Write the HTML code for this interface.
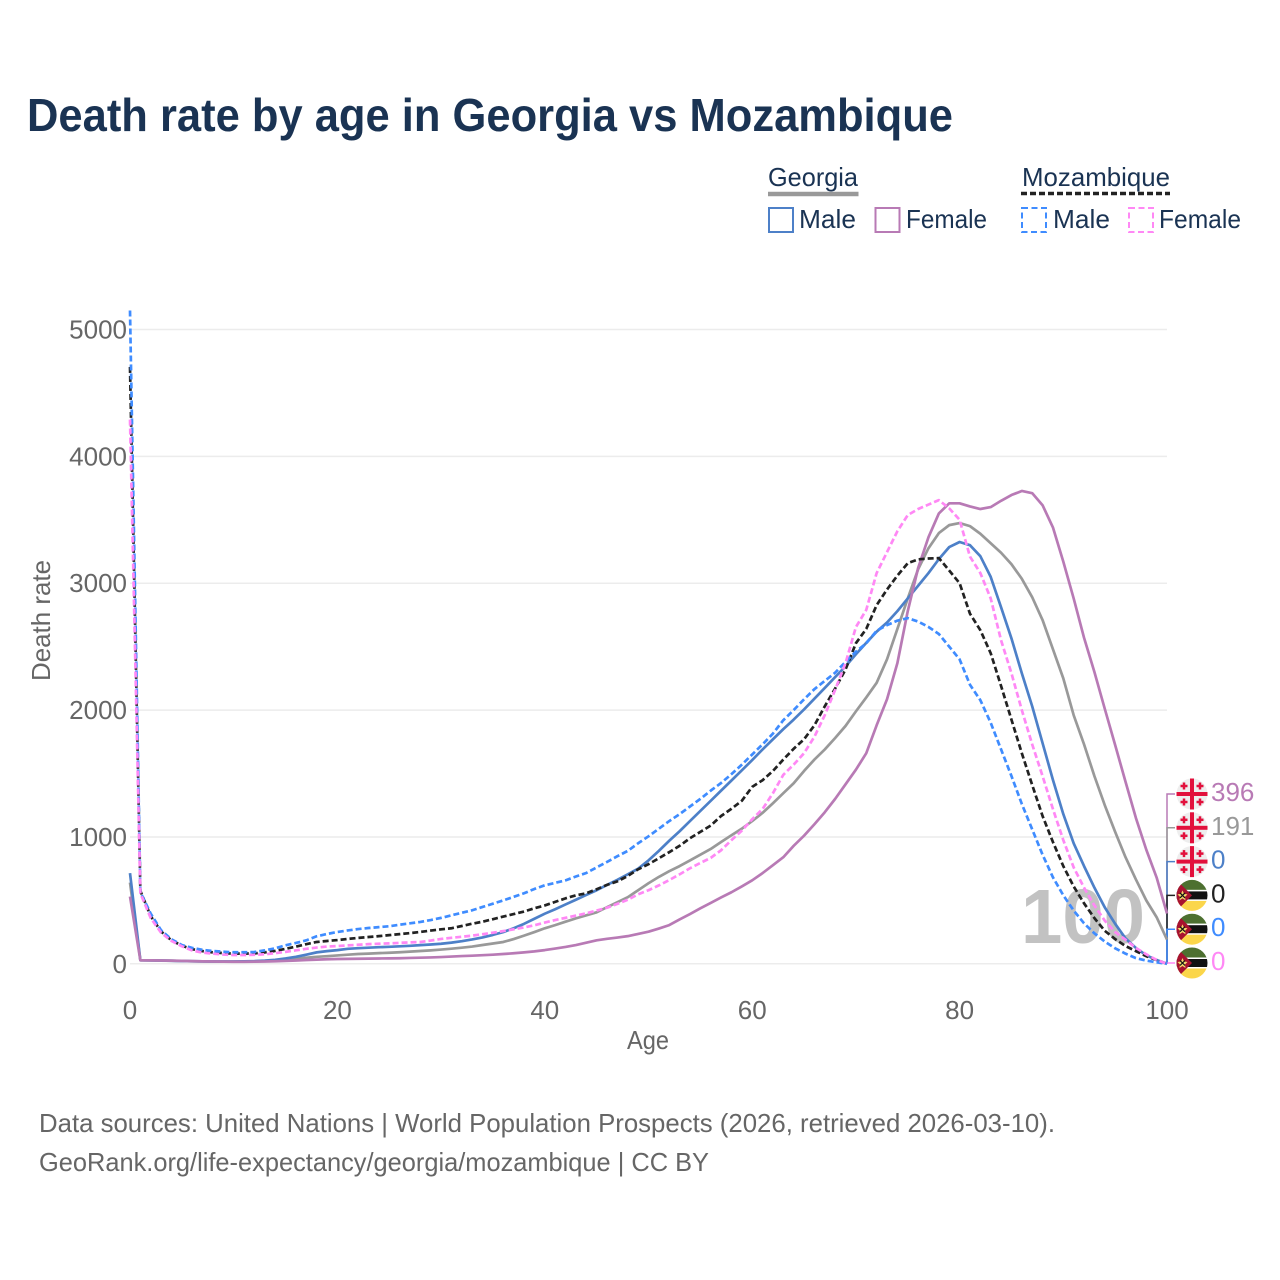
<!DOCTYPE html>
<html lang="en">
<head>
<meta charset="utf-8">
<title>Death rate by age in Georgia vs Mozambique</title>
<style>
html,body{margin:0;padding:0;background:#fff;width:1280px;height:1280px;overflow:hidden}
svg{display:block}
text{font-family:"Liberation Sans",sans-serif}
</style>
</head>
<body>
<svg id="chart" xmlns="http://www.w3.org/2000/svg" width="1280" height="1280" viewBox="0 0 1280 1280">
  <defs><clipPath id="flag-clip"><circle cx="0" cy="0" r="15.5"/></clipPath></defs>
  <rect x="0" y="0" width="1280" height="1280" fill="#ffffff"/>
  <text x="27" y="131" font-size="46" font-weight="700" fill="#1a3353" textLength="926" lengthAdjust="spacingAndGlyphs">Death rate by age in Georgia vs Mozambique</text>

  <g font-size="26" fill="#1a3353">
    <text x="768" y="186" textLength="90" lengthAdjust="spacingAndGlyphs">Georgia</text>
    <line x1="768" y1="194" x2="858.500" y2="194" stroke="#999999" stroke-width="4.500"/>
    <text x="1022" y="186" textLength="148" lengthAdjust="spacingAndGlyphs">Mozambique</text>
    <line x1="1021" y1="193.500" x2="1170" y2="193.500" stroke="#222222" stroke-width="3.500" stroke-dasharray="6 3"/>
    <rect x="769" y="208" width="24" height="24" fill="none" stroke="#4d80c8" stroke-width="2"/>
    <text x="799" y="228" textLength="57" lengthAdjust="spacingAndGlyphs">Male</text>
    <rect x="875.500" y="208" width="24" height="24" fill="none" stroke="#b87ab5" stroke-width="2"/>
    <text x="906" y="228" textLength="81" lengthAdjust="spacingAndGlyphs">Female</text>
    <rect x="1022" y="208" width="24" height="24" fill="none" stroke="#3f8cff" stroke-width="2" stroke-dasharray="6 3.500"/>
    <text x="1053" y="228" textLength="57" lengthAdjust="spacingAndGlyphs">Male</text>
    <rect x="1129" y="208" width="24" height="24" fill="none" stroke="#ff88f5" stroke-width="2" stroke-dasharray="6 3.500"/>
    <text x="1159" y="228" textLength="82" lengthAdjust="spacingAndGlyphs">Female</text>
  </g>

  <g id="grid"></g>
  <g id="y-ticks" font-size="26" fill="#666666" text-anchor="end"></g>
  <g id="x-ticks" font-size="26" fill="#666666" text-anchor="middle"></g>
  <text x="627" y="1049" font-size="26" fill="#666666" textLength="42" lengthAdjust="spacingAndGlyphs">Age</text>
  <text transform="translate(50,681) rotate(-90)" x="0" y="0" font-size="26" fill="#666666" textLength="121" lengthAdjust="spacingAndGlyphs">Death rate</text>
  <text x="1021" y="943" font-size="77" font-weight="700" fill="#c2c2c2" textLength="124" lengthAdjust="spacingAndGlyphs">100</text>

  <g id="connectors"></g>
  <g id="series"></g>
  <g id="end-labels" font-size="26"></g>

  <g font-size="26" fill="#666666">
    <text x="39" y="1132" textLength="1016" lengthAdjust="spacingAndGlyphs">Data sources: United Nations | World Population Prospects (2026, retrieved 2026-03-10).</text>
    <text x="39" y="1171" textLength="670" lengthAdjust="spacingAndGlyphs">GeoRank.org/life-expectancy/georgia/mozambique | CC BY</text>
  </g>
</svg>
<script>
const xTicks = [0, 20, 40, 60, 80, 100];
const yTicks = [0, 1000, 2000, 3000, 4000, 5000];
const georgiaTotal = [640,28,27,25,24,22,20,19,18,17,17,18,19,22,26,33,40,48,55,60,66,72,77,80,84,87,91,96,101,106,112,119,127,136,148,160,172,195,222,250,280,305,332,358,382,406,446,485,525,580,635,685,730,770,815,860,905,960,1013,1065,1125,1190,1266,1345,1423,1520,1610,1690,1780,1875,1990,2100,2215,2400,2640,2880,3110,3276,3395,3458,3474,3450,3390,3315,3240,3150,3035,2890,2710,2480,2250,1960,1730,1480,1250,1040,840,665,500,367,191];
const georgiaMale = [715,28,27,26,24,22,20,19,18,18,18,19,21,25,31,42,55,72,90,100,108,118,123,127,131,134,138,142,147,152,158,167,178,192,208,228,250,280,315,355,395,430,468,505,543,580,622,662,705,750,815,890,970,1045,1125,1205,1285,1365,1445,1525,1606,1690,1770,1850,1925,2005,2090,2175,2260,2345,2440,2530,2618,2690,2780,2880,2980,3080,3190,3285,3325,3300,3213,3050,2810,2565,2290,2030,1740,1450,1180,950,770,600,445,315,200,125,67,30,0];
const georgiaFemale = [530,28,27,26,25,23,21,19,18,17,16,16,17,18,20,23,26,30,33,36,38,39,40,41,42,43,44,46,48,50,53,57,61,64,68,72,77,83,90,98,108,120,133,148,166,185,197,207,218,235,253,278,305,350,392,437,480,523,564,610,658,715,777,840,930,1010,1100,1195,1300,1415,1530,1660,1880,2085,2370,2780,3120,3363,3550,3630,3630,3605,3585,3600,3650,3695,3727,3710,3615,3440,3170,2880,2570,2300,2010,1725,1435,1150,900,680,396];
const mozambiqueTotal = [4705,575,375,255,185,143,115,100,90,84,80,80,82,90,102,118,135,155,172,180,187,196,204,211,218,226,234,242,251,262,272,280,298,316,332,352,372,392,412,438,460,488,516,540,556,588,622,650,692,745,785,832,880,930,990,1040,1090,1165,1222,1285,1395,1447,1520,1610,1695,1770,1880,2030,2170,2320,2527,2640,2827,2950,3060,3158,3188,3195,3198,3100,3000,2760,2630,2448,2190,1925,1660,1410,1165,960,770,610,477,360,260,195,140,100,60,30,0];
const mozambiqueMale = [5150,565,395,264,193,148,125,110,101,95,91,91,93,106,122,146,164,185,217,235,251,263,274,282,289,296,308,319,330,345,362,382,402,422,448,474,500,528,556,590,619,638,658,688,716,760,803,848,890,950,1005,1065,1125,1180,1240,1300,1365,1425,1495,1570,1650,1730,1815,1920,2000,2085,2165,2230,2295,2380,2460,2527,2625,2670,2705,2725,2698,2655,2600,2500,2400,2200,2078,1900,1690,1480,1260,1060,860,682,540,420,319,240,175,122,80,45,25,12,0];
const mozambiqueFemale = [4290,556,360,245,180,138,105,88,80,73,69,69,71,75,84,94,106,118,128,136,140,145,150,155,158,161,165,169,172,183,196,205,213,222,233,245,258,272,287,304,325,345,362,380,398,420,442,472,505,548,580,618,660,705,753,795,835,895,975,1050,1140,1220,1345,1490,1570,1660,1790,1960,2160,2370,2654,2790,3080,3245,3410,3537,3585,3620,3655,3590,3500,3210,3080,2880,2550,2290,2000,1730,1480,1220,975,760,600,460,340,250,190,125,75,30,0];

const NS = 'http://www.w3.org/2000/svg';
const xOf = function (age) { return 130 + age * 10.37; };
const yOf = function (v) { return 963.8 - v * 0.12686; };

function make(tag, parent, attrs) {
  const el = document.createElementNS(NS, tag);
  Object.keys(attrs).forEach(function (k) { el.setAttribute(k, attrs[k]); });
  parent.appendChild(el);
  return el;
}

const gridG = document.getElementById('grid');
const yG = document.getElementById('y-ticks');
yTicks.forEach(function (t) {
  const line = make('line', gridG, {x1: 130, x2: 1167, y1: yOf(t), y2: yOf(t), stroke: '#ececec', 'stroke-width': 1.5});
  
  
  const label = make('text', yG, {x: 127, y: yOf(t) + 9});
  
  
  label.textContent = t;
});

const xG = document.getElementById('x-ticks');
xTicks.forEach(function (t) {
  const label = make('text', xG, {x: xOf(t), y: 1019});
  
  
  label.textContent = t;
});

function addSeries(key, values, color, dashed, width) {
  const pts = values.map(function (v, i) { return xOf(i).toFixed(2) + ',' + yOf(v).toFixed(2); }).join(' ');
  const attrs = {points: pts, fill: 'none', stroke: color, 'stroke-width': width, 'stroke-linejoin': 'round'};
  if (dashed) { attrs['stroke-dasharray'] = '6 3'; }
  const line = make('polyline', document.getElementById('series'), attrs);
  
  
}
addSeries('georgia-total-line', georgiaTotal, '#999999', false, 2.7);
addSeries('georgia-male-line', georgiaMale, '#4d80c8', false, 2.7);
addSeries('georgia-female-line', georgiaFemale, '#b87ab5', false, 2.7);
addSeries('mozambique-total-line', mozambiqueTotal, '#222222', true, 2.7);
addSeries('mozambique-male-line', mozambiqueMale, '#3f8cff', true, 2.7);
addSeries('mozambique-female-line', mozambiqueFemale, '#ff88f5', true, 2.7);

const georgiaFlag = '<circle r="15.500" fill="#eeeeee"/>' +
  '<rect x="-15.500" y="-2" width="31" height="4" fill="#e2103c"/>' +
  '<rect x="-2" y="-15.500" width="4" height="31" fill="#e2103c"/>' +
  [[-8,-8],[8,-8],[-8,8],[8,8]].map(function (p) {
    return '<rect x="' + (p[0]-3.5) + '" y="' + (p[1]-1.25) + '" width="7" height="2.5" fill="#e2103c"/>' +
           '<rect x="' + (p[0]-1.25) + '" y="' + (p[1]-3.5) + '" width="2.5" height="7" fill="#e2103c"/>';
  }).join('');
const mozambiqueFlag = '<g clip-path="url(#flag-clip)">' +
  '<rect x="-16" y="-16" width="32" height="10.500" fill="#4d7030"/>' +
  '<rect x="-16" y="-5.500" width="32" height="11" fill="#ffffff"/>' +
  '<rect x="-16" y="-4" width="32" height="8" fill="#111111"/>' +
  '<rect x="-16" y="5.500" width="32" height="10.500" fill="#fbd64a"/>' +
  '<polygon points="-16,-16 0,0 -16,16" fill="#a8122f"/>' +
  '<polygon points="-9.500,-5 -8,-1.500 -4.500,-1 -7,1.500 -6.500,5 -9.500,3 -12.500,5 -12,1.500 -14.500,-1 -11,-1.500" fill="#f3d86a"/>' +
  '<path d="M-12,-2.500 L-7,2.500 M-7,-2.500 L-12,2.500" stroke="#111111" stroke-width="1.200"/>' +
  '</g>';

const endSeries = [
  {key: 'georgia-female', values: georgiaFemale, color: '#b87ab5', flag: georgiaFlag},
  {key: 'georgia-total', values: georgiaTotal, color: '#999999', flag: georgiaFlag},
  {key: 'georgia-male', values: georgiaMale, color: '#4d80c8', flag: georgiaFlag},
  {key: 'mozambique-total', values: mozambiqueTotal, color: '#222222', flag: mozambiqueFlag},
  {key: 'mozambique-male', values: mozambiqueMale, color: '#3f8cff', flag: mozambiqueFlag},
  {key: 'mozambique-female', values: mozambiqueFemale, color: '#ff88f5', flag: mozambiqueFlag}
];
const connG = document.getElementById('connectors');
const endG = document.getElementById('end-labels');
endSeries.forEach(function (s, i) {
  const ly = 794 + i * 33.8;
  const last = s.values[s.values.length - 1];
  const conn = make('polyline', connG, {points: '1167,' + yOf(last).toFixed(2) + ' 1167,' + ly + ' 1175,' + ly, fill: 'none', stroke: s.color, 'stroke-width': 1.5});
  
  
  const flag = make('g', endG, {transform: 'translate(1192,' + ly + ')'});
  
  
  flag.innerHTML = s.flag;
  const label = make('text', endG, {x: 1211, y: ly + 7, fill: s.color});
  
  
  label.textContent = Math.round(last);
});
</script>
</body>
</html>
